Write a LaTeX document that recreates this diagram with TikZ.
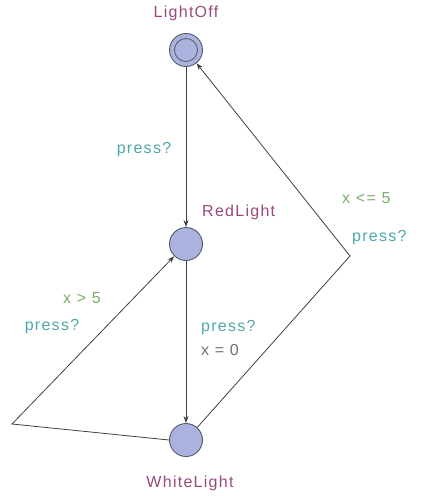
\documentclass[tikz,border=0pt]{standalone}
\usepackage{fontspec}
\setmainfont{Liberation Sans}[LetterSpace=8]
\usetikzlibrary{arrows.meta}
\definecolor{locfill}{HTML}{A9B3DD}
\definecolor{locline}{HTML}{555A66}
\definecolor{namecol}{HTML}{9A4A7A}
\definecolor{synccol}{HTML}{4FA8A8}
\definecolor{guardcol}{HTML}{7AAE6A}
\definecolor{assigncol}{HTML}{707070}
\tikzset{
  loc/.style={circle, draw=locline, fill=locfill, line width=0.9pt, minimum size=33pt, inner sep=0pt},
  txt/.style={font=\fontsize{16}{17}\selectfont, inner sep=1pt},
  lname/.style={txt, text=namecol},
  sync/.style={txt, text=synccol},
  guard/.style={txt, text=guardcol},
  assign/.style={txt, text=assigncol},
  edge/.style={draw=black!75, line width=0.8pt, -{Stealth[length=7pt,width=5pt]}},
}
\begin{document}
\begin{tikzpicture}[x=1pt,y=-1pt]
\useasboundingbox (0,0) rectangle (422,496);
\node[loc] (off) at (186,50) {};
\node[circle, draw=locline, line width=0.8pt, minimum size=23pt, inner sep=0pt] (offin) at (186,50) {};
\node[loc] (red) at (186,244) {};
\node[loc] (white) at (186,440) {};
\node[lname] (offname) at (186,13) {LightOff};
\node[lname, anchor=west] (redname) at (201,212) {RedLight};
\node[lname] (whitename) at (190,483) {WhiteLight};
\coordinate (bl) at (12,424);
\coordinate (br) at (350,256);
\draw[edge] (off) -- (red);
\draw[edge] (red) -- (white);
\draw[edge] (white.west) -- (bl) -- (red);
\draw[edge] (white) -- (br) -- (off);
\node[sync] (s1) at (144,150) {press?};
\node[guard, anchor=west] (g2) at (341,198) {x <= 5};
\node[sync, anchor=west] (s2) at (351,238) {press?};
\node[guard] (g3) at (82,298) {x > 5};
\node[sync] (s3) at (52,327) {press?};
\node[sync, anchor=west] (s4) at (200,328) {press?};
\node[assign, anchor=west] (a4) at (200,350) {x = 0};
\end{tikzpicture}
\end{document}
